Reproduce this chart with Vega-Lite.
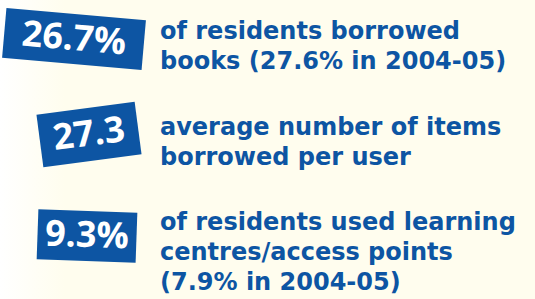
{
  "$schema": "https://vega.github.io/schema/vega-lite/v6.json",
  "width": 535,
  "height": 299,
  "autosize": {"type": "fit", "contains": "padding"},
  "padding": 0,
  "background": "#FFFDEE",
  "config": {
    "view": {
      "stroke": null,
      "fill": {"gradient": "linear", "x1": 0, "y1": 0, "x2": 1, "y2": 0,
        "stops": [{"offset": 0, "color": "#ffffff"}, {"offset": 0.12, "color": "#FFFDEE"}, {"offset": 1, "color": "#FFFDEE"}]}
    },
    "text": {"font": "Open Sans", "fontWeight": "bold"}
  },
  "data": {
    "values": [
      {"item": 1, "stat": "26.7%", "label": "of residents borrowed\nbooks (27.6% in 2004-05)"},
      {"item": 2, "stat": "27.3", "label": "average number of items\nborrowed per user"},
      {"item": 3, "stat": "9.3%", "label": "of residents used learning\ncentres/access points\n(7.9% in 2004-05)"}
    ]
  },
  "encoding": {
    "y": {"field": "item", "type": "quantitative", "scale": {"domain": [1, 3], "range": [39, 230]}, "axis": null}
  },
  "layer": [
    {
      "transform": [{"filter": "datum.item == 1"}],
      "mark": {"type": "point", "filled": true, "opacity": 1, "color": "#0D55A3", "size": 10000,
        "shape": "M-1.4,-0.5H1.4V0.5H-1.4Z", "angle": 5, "xOffset": -14, "yOffset": 0},
      "encoding": {"x": {"datum": "stat", "type": "nominal", "scale": {"type": "point", "domain": ["stat", "label"], "range": [88, 160], "padding": 0}, "axis": null}}
    },
    {
      "transform": [{"filter": "datum.item == 2"}],
      "mark": {"type": "point", "filled": true, "opacity": 1, "color": "#0D55A3", "size": 10000,
        "shape": "M-0.99,-0.53H0.99V0.53H-0.99Z", "angle": 352.5, "xOffset": 1, "yOffset": 0},
      "encoding": {"x": {"datum": "stat", "type": "nominal"}}
    },
    {
      "transform": [{"filter": "datum.item == 3"}],
      "mark": {"type": "point", "filled": true, "opacity": 1, "color": "#0D55A3", "size": 10000,
        "shape": "M-0.99,-0.5H0.99V0.5H-0.99Z", "angle": 2, "xOffset": -1, "yOffset": 6},
      "encoding": {"x": {"datum": "stat", "type": "nominal"}}
    },
    {
      "transform": [{"filter": "datum.item == 1"}],
      "mark": {"type": "text", "color": "#ffffff", "fontSize": 36, "align": "center", "baseline": "middle",
        "angle": 5, "xOffset": -14, "yOffset": 0},
      "encoding": {"x": {"datum": "stat", "type": "nominal"}, "text": {"field": "stat"}}
    },
    {
      "transform": [{"filter": "datum.item == 2"}],
      "mark": {"type": "text", "color": "#ffffff", "fontSize": 36, "align": "center", "baseline": "middle",
        "angle": 352.5, "xOffset": 1, "yOffset": 0},
      "encoding": {"x": {"datum": "stat", "type": "nominal"}, "text": {"field": "stat"}}
    },
    {
      "transform": [{"filter": "datum.item == 3"}],
      "mark": {"type": "text", "color": "#ffffff", "fontSize": 36, "align": "center", "baseline": "middle",
        "angle": 2, "xOffset": -1, "yOffset": 6},
      "encoding": {"x": {"datum": "stat", "type": "nominal"}, "text": {"field": "stat"}}
    },
    {
      "mark": {"type": "text", "color": "#0D55A3", "font": "DejaVu Sans", "fontSize": 24, "align": "left", "baseline": "alphabetic",
        "lineBreak": "\n", "lineHeight": 30},
      "encoding": {"x": {"datum": "label", "type": "nominal"}, "text": {"field": "label"}}
    }
  ]
}
